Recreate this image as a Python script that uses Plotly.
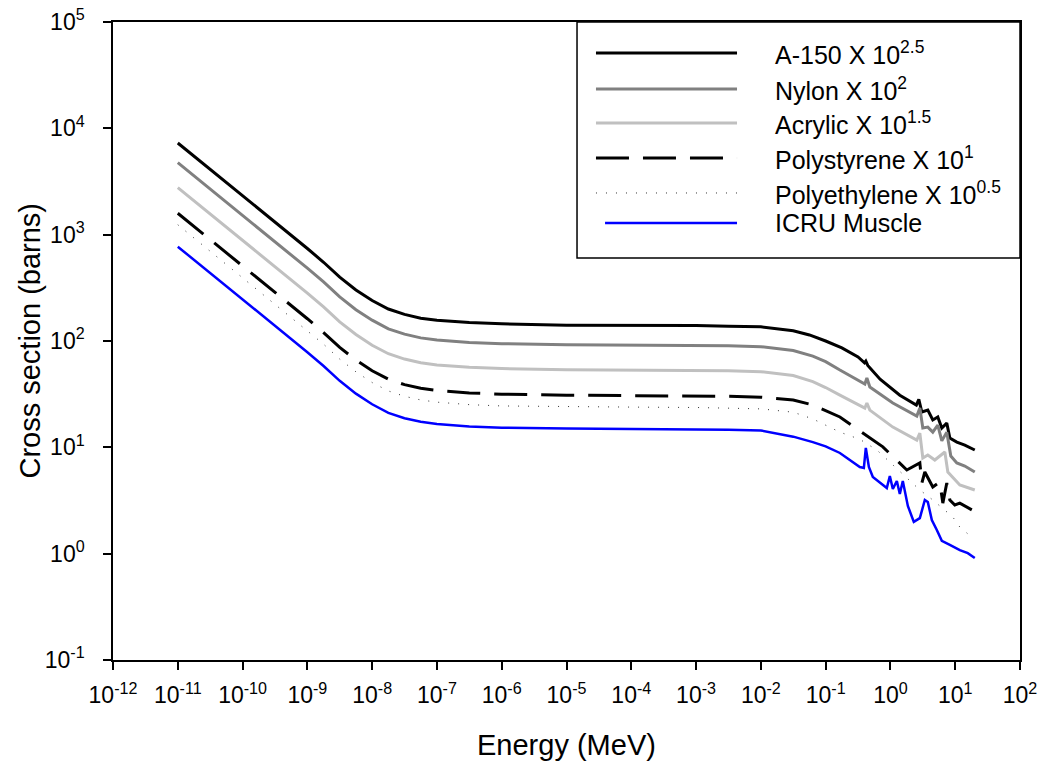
import plotly.graph_objects as go

# ---------------- data ----------------
# common low-energy grid (MeV)
E_LOW = [1e-11, 3.16e-11, 1e-10, 3.16e-10, 1e-9, 1.78e-9, 3.16e-9, 5.62e-9, 1e-8,
         1.78e-8, 3.16e-8, 5.62e-8, 1e-7, 3.16e-7, 1e-6, 1e-5, 1e-4, 1e-3, 3.16e-3, 1e-2]

A150_LOW = [7280, 4120, 2340, 1320, 741, 550, 398, 302, 240,
            200, 178, 164, 157, 149, 145, 141, 141, 140, 138, 136]
A150_E_HI = [0.0316, 0.0562, 0.1, 0.178, 0.316, 0.398, 0.417, 0.447, 0.692, 0.891, 1.396,
             2.512, 2.742, 3.055, 3.776, 4.508, 5.383, 6.209, 7.413, 8.260, 10.59, 14.06, 20.04]
A150_HI = [125, 114, 100, 86.1, 70.8, 62.4, 64.6, 58.9, 43.7, 38.5, 30.9,
           25.0, 28.2, 21.5, 22.4, 18.1, 19.3, 15.2, 16.9, 12.2, 11.2, 10.5, 9.44]

NYLON_LOW = [4750, 2690, 1530, 865, 484, 359, 260, 197, 157,
             130, 116, 107, 102, 97.0, 94.4, 92.3, 91.8, 91.2, 90.2, 88.5]
NYLON_E_HI = [0.0316, 0.0634, 0.1, 0.166, 0.337, 0.403, 0.433, 0.481, 1.089, 2.553, 2.844,
              3.162, 3.776, 4.508, 5.383, 6.209, 7.413, 8.551, 10.59, 14.06, 20.04]
NYLON_HI = [81.5, 72.0, 64.0, 53.3, 42.1, 39.4, 44.9, 36.9, 26.1, 19.7, 23.4,
            15.2, 15.5, 13.9, 16.2, 11.5, 13.9, 8.28, 7.13, 6.67, 5.86]

ACRYLIC_LOW = [2770, 1570, 891, 504, 282, 209, 151, 115, 91.2,
               75.9, 67.6, 62.4, 59.6, 56.5, 55.0, 53.7, 53.5, 53.1, 52.5, 51.5]
ACRYLIC_E_HI = [0.0316, 0.0634, 0.1, 0.166, 0.337, 0.403, 0.433, 0.481, 1.089, 2.553, 2.844,
                3.162, 3.776, 4.842, 6.918, 7.691, 11.78, 20.04]
ACRYLIC_HI = [47.4, 41.5, 36.5, 31.0, 24.5, 23.4, 26.1, 22.4, 15.5, 11.7, 13.6,
              7.94, 8.47, 7.60, 9.04, 5.86, 4.43, 3.97]

PS_LOW = [1590, 902, 513, 290, 162, 120, 87.1, 66.1, 52.5,
          43.7, 38.9, 35.9, 34.3, 32.5, 31.6, 30.9, 30.8, 30.5, 30.2, 29.6]
PS_E_HI = [0.0316, 0.0562, 0.0813, 0.166, 0.433, 0.764, 1.791, 2.844, 3.055, 3.396, 4.508,
           5.781, 6.442, 7.413, 8.260, 9.863, 11.78, 18.03]
PS_HI = [27.9, 25.5, 23.4, 19.3, 12.8, 10.1, 6.12, 7.13, 4.62, 5.86, 4.24,
         4.72, 2.99, 4.62, 3.20, 2.87, 2.99, 2.58]

PE_LOW = [1240, 700, 398, 225, 126, 93.3, 67.6, 51.3, 40.7,
          33.9, 30.2, 27.9, 26.6, 25.2, 24.5, 24.0, 23.9, 23.7, 23.4, 23.0]
PE_E_HI = [0.0316, 0.0634, 0.166, 0.337, 0.617, 1.089, 1.791, 2.844, 4.508, 6.918,
           9.183, 11.78, 15.10, 18.71]
PE_HI = [21.4, 18.5, 13.9, 11.9, 9.44, 6.82, 5.14, 3.97, 3.20, 2.58,
         2.21, 1.78, 1.56, 1.40]

MUSCLE_LOW = [771, 437, 248, 140, 78.5, 58.2, 42.2, 32.0, 25.4,
              21.1, 18.8, 17.4, 16.6, 15.7, 15.3, 15.0, 14.9, 14.8, 14.6, 14.4]
MUSCLE_E_HI = [0.0316, 0.0634, 0.1, 0.166, 0.337, 0.389, 0.417, 0.465, 0.535, 0.879, 0.979,
               1.089, 1.256, 1.396, 1.552, 1.858, 2.296, 2.844, 3.396, 3.776, 4.355,
               5.200, 6.209, 8.260, 11.78, 15.63, 20.04]
MUSCLE_HI = [12.6, 11.2, 10.2, 8.85, 6.53, 6.40, 9.86, 6.53, 5.26, 4.14, 5.37,
             4.06, 4.82, 3.64, 4.82, 2.81, 1.99, 2.16, 3.20, 3.06, 2.07,
             1.67, 1.32, 1.21, 1.08, 1.01, 0.91]

LEGEND_LABELS = ["A-150 X 10<sup>2.5</sup>", "Nylon X 10<sup>2</sup>",
                 "Acrylic X 10<sup>1.5</sup>", "Polystyrene X 10<sup>1</sup>",
                 "Polyethylene X 10<sup>0.5</sup>", "ICRU Muscle"]

X_TICKS = [10.0 ** k for k in range(-12, 3)]
X_TICKTEXT = ["10<sup>%d</sup>" % k for k in range(-12, 3)]
Y_TICKS = [10.0 ** k for k in range(-1, 6)]
Y_TICKTEXT = ["10<sup>%d</sup>" % k for k in range(-1, 6)]

FONT = "Liberation Sans, Arial, sans-serif"

series = [
    (LEGEND_LABELS[0], A150_LOW, A150_E_HI, A150_HI, dict(color="#000000", width=3)),
    (LEGEND_LABELS[1], NYLON_LOW, NYLON_E_HI, NYLON_HI, dict(color="#808080", width=3)),
    (LEGEND_LABELS[2], ACRYLIC_LOW, ACRYLIC_E_HI, ACRYLIC_HI, dict(color="#c0c0c0", width=3)),
    (LEGEND_LABELS[3], PS_LOW, PS_E_HI, PS_HI, dict(color="#000000", width=3, dash="33px,14px")),
    (LEGEND_LABELS[4], PE_LOW, PE_E_HI, PE_HI, dict(color="#333333", width=1, dash="1px,9px")),
    (LEGEND_LABELS[5], MUSCLE_LOW, MUSCLE_E_HI, MUSCLE_HI, dict(color="#0000ff", width=2.5)),
]

fig = go.Figure()
for name, low, ehi, hi, line in series:
    fig.add_trace(go.Scatter(x=E_LOW + ehi, y=low + hi, mode="lines", name=name,
                             line=line, showlegend=False))

axis_common = dict(type="log", showgrid=False, zeroline=False, showline=True,
                   linecolor="black", linewidth=1.5, mirror=True, ticks="outside",
                   ticklen=8, tickwidth=1.5, tickcolor="black", automargin=False,
                   tickfont=dict(family=FONT, size=23, color="black"))

fig.update_xaxes(range=[-12, 2], tickvals=X_TICKS, ticktext=X_TICKTEXT,
                 ticklabelstandoff=6, **axis_common)
fig.update_yaxes(range=[-1, 5], tickvals=Y_TICKS, ticktext=Y_TICKTEXT,
                 ticklabelstandoff=14, **axis_common)

# legend drawn manually (box attached to the top-right corner of the frame)
shapes = [dict(type="rect", xref="paper", yref="paper", x0=0.5116, x1=1.0, y0=0.630, y1=1.0,
               line=dict(color="black", width=1.5), fillcolor="white", layer="above")]
rows_y = [0.9514, 0.8950, 0.8417, 0.7868, 0.7320, 0.6850]
annotations = []
for i, (name, low, ehi, hi, line) in enumerate(series):
    x0 = 0.5425 if i == 5 else 0.5325
    ln = dict(color=line["color"], width=line["width"])
    if "dash" in line:
        ln["dash"] = line["dash"]
    shapes.append(dict(type="line", xref="paper", yref="paper", x0=x0, x1=0.688,
                       y0=rows_y[i], y1=rows_y[i], line=ln, layer="above"))
    annotations.append(dict(xref="paper", yref="paper", x=0.7277, y=rows_y[i],
                            xanchor="left", yanchor="middle", showarrow=False,
                            text=name, font=dict(family=FONT, size=25, color="black")))

annotations.append(dict(xref="paper", yref="paper", x=0.5, y=-0.134, xanchor="center",
                        yanchor="middle", showarrow=False, text="Energy (MeV)",
                        font=dict(family=FONT, size=29, color="black")))
annotations.append(dict(xref="paper", yref="paper", x=-0.092, y=0.5, xanchor="center",
                        yanchor="middle", showarrow=False, text="Cross section (barns)",
                        textangle=-90, font=dict(family=FONT, size=29, color="black")))

fig.update_layout(width=1045, height=768, margin=dict(l=113, r=25, t=22, b=108),
                  paper_bgcolor="white", plot_bgcolor="white",
                  shapes=shapes, annotations=annotations,
                  font=dict(family=FONT, color="black"))

fig.write_html("out.html")
